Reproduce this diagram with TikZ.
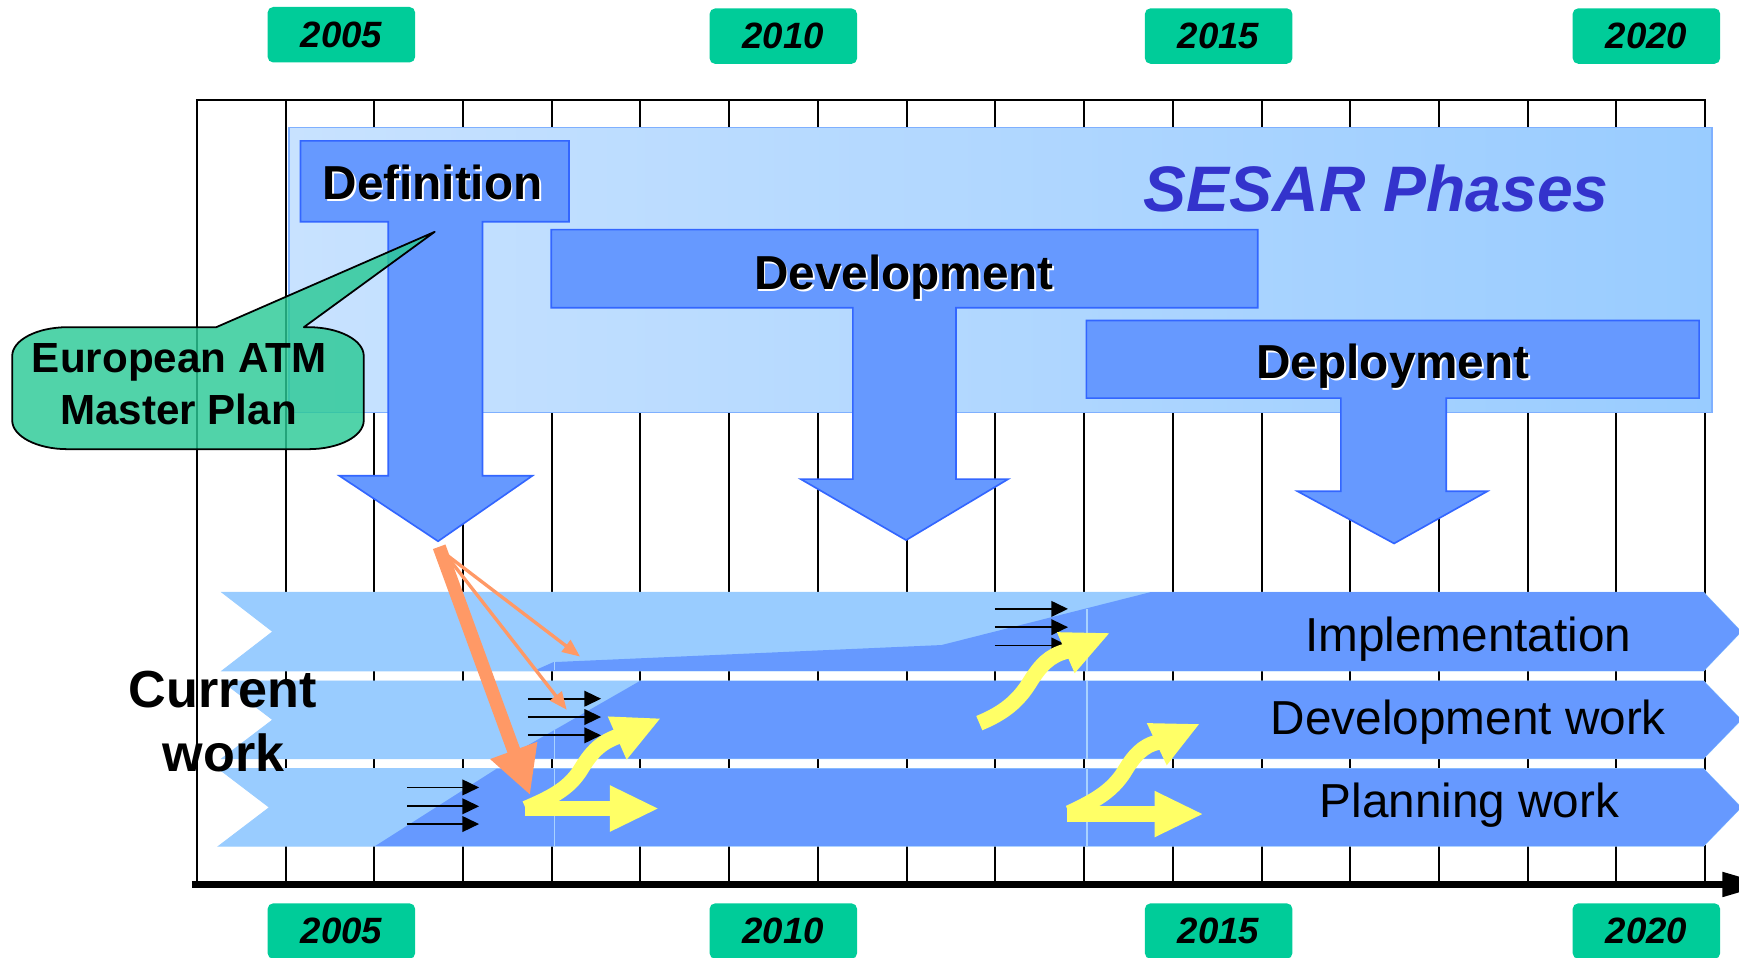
\documentclass[tikz,border=0pt]{standalone}
\usepackage{fontspec}
\setmainfont{Liberation Sans}
\usetikzlibrary{arrows.meta}
\definecolor{yearfill}{HTML}{00CC99}
\definecolor{lightband}{HTML}{99CCFF}
\definecolor{darkband}{HTML}{6699FF}
\definecolor{phasefill}{HTML}{6699FF}
\definecolor{phaseedge}{HTML}{3366FF}
\definecolor{sesarL}{HTML}{C8E2FF}
\definecolor{sesarR}{HTML}{99CCFF}
\definecolor{sesaredge}{HTML}{7FB0FF}
\definecolor{sesartxt}{HTML}{3333CC}
\definecolor{orangearr}{HTML}{FF9966}
\definecolor{yellowarr}{HTML}{FFFF66}
\definecolor{calloutfill}{HTML}{2BC996}
\definecolor{seam}{HTML}{A8D2FF}
\begin{document}
\begin{tikzpicture}[x=1pt,y=-1pt,
  gridline/.style={line width=1.8pt,black},
  yearbox/.style={fill=yearfill,rounded corners=5pt,minimum width=133pt,minimum height=50pt,inner sep=0pt,
    font=\fontsize{33}{36}\selectfont\bfseries\itshape},
  phasebox/.style={fill=phasefill,draw=phaseedge,line width=1.5pt,line join=miter},
  phasetxt/.style={font=\fontsize{43}{48}\selectfont\bfseries,inner sep=0pt,anchor=base},
  phaseshadow/.style={phasetxt,text=white},
  bandtxt/.style={font=\fontsize{43}{48}\selectfont,inner sep=0pt,anchor=base},
  lightbandst/.style={fill=lightband,draw=lightband,line width=0.8pt},
  darkbandst/.style={fill=darkband},
  seamline/.style={draw=seam,line width=1.2pt},
  blackarr/.style={line width=1.7pt,-{Triangle[length=15pt,width=14pt]}},
  orangethick/.style={orangearr,line width=12pt,-{Triangle[length=43pt,width=42pt]}},
  orangethin/.style={orangearr,line width=3pt,-{Triangle[length=16pt,width=13pt]}},
  yshaft/.style={yellowarr,line width=14pt},
  yhead/.style={fill=yellowarr}
]
\useasboundingbox (0,0) rectangle (1568,863);

% grid
\foreach \i in {0,...,17} \draw[gridline] ({177.5+80*\i},90) -- ({177.5+80*\i},797);
\draw[gridline] (176.6,90) -- (1538.4,90);
% time axis
\draw[line width=6.5pt] (173,797.5) -- (1556,797.5);
\fill (1553,786) -- (1592,797.5) -- (1553,809) -- cycle;

% SESAR phases background
\shade[left color=sesarL,right color=sesarR] (260.5,115) rectangle (1543.5,372);
\draw[sesaredge,line width=1.2pt] (260.5,115) rectangle (1543.5,372);

% phase arrows
\filldraw[phasebox] (979.5,289) -- (1532,289) -- (1532,359) -- (1304,359) -- (1304,443) -- (1341,443)
  -- (1257,490) -- (1170,443) -- (1209,443) -- (1209,359) -- (979.5,359) -- cycle;
\filldraw[phasebox] (497,207) -- (1134,207) -- (1134,277.5) -- (862,277.5) -- (862,432) -- (909,432)
  -- (817,487) -- (722,432) -- (769,432) -- (769,277.5) -- (497,277.5) -- cycle;
\filldraw[phasebox] (271,127) -- (513,127) -- (513,200) -- (435,200) -- (435,429) -- (480,429)
  -- (395,488) -- (306,429) -- (350,429) -- (350,200) -- (271,200) -- cycle;

% callout
\filldraw[fill=calloutfill,fill opacity=0.82,draw=black,line width=1.6pt,line join=round]
  (195,295) -- (392,209) -- (274,295) -- (278,295) .. controls (305.6,295) and (328,306.6) .. (328,321)
  -- (328,379) .. controls (328,393.4) and (305.6,405) .. (278,405)
  -- (61,405) .. controls (33.4,405) and (11,393.4) .. (11,379)
  -- (11,321) .. controls (11,306.6) and (33.4,295) .. (61,295) -- cycle;

% current work bands
\filldraw[lightbandst] (200,534) -- (1536,534) -- (1570,569.5) -- (1536,605) -- (200,605) -- (246,569.5) -- cycle;
\fill[darkbandst] (481,605) -- (499,597) -- (849,581.6) -- (1037,534) -- (1536,534) -- (1570,569.5) -- (1536,605) -- cycle;
\filldraw[lightbandst] (200,614) -- (1536,614) -- (1570,649) -- (1536,684) -- (200,684) -- (246,649) -- cycle;
\fill[darkbandst] (577,614) -- (1536,614) -- (1570,649) -- (1536,684) -- (455,684) -- cycle;
\filldraw[lightbandst] (197,693) -- (1536,693) -- (1570,728) -- (1536,763) -- (197,763) -- (243,728) -- cycle;
\fill[darkbandst] (448,693) -- (1536,693) -- (1570,728) -- (1536,763) -- (338,763) -- cycle;
\draw[seamline] (500,597) -- (500,604.5);
\draw[seamline] (500,658) -- (500,684);
\draw[seamline] (500,693) -- (500,763);
\draw[seamline] (980,549) -- (980,605);
\draw[seamline] (980,614) -- (980,684);
\draw[seamline] (980,693) -- (980,763);

% black arrows
\foreach \y [count=\k] in {710,727,743} {
  \coordinate (pa\k) at (367,\y); \coordinate (pb\k) at (432,\y);
  \draw[blackarr] (pa\k) -- (pb\k);
}
\foreach \y [count=\k] in {630,646.5,663} {
  \coordinate (da\k) at (476,\y); \coordinate (db\k) at (542,\y);
  \draw[blackarr] (da\k) -- (db\k);
}
\foreach \y [count=\k] in {549,565.5,582} {
  \coordinate (ia\k) at (897,\y); \coordinate (ib\k) at (963,\y);
  \draw[blackarr] (ia\k) -- (ib\k);
}

% orange arrows
\coordinate (orS) at (396,493);
\coordinate (orT) at (478,717);
\coordinate (otS) at (401,499);
\coordinate (otA) at (523,592);
\coordinate (otB) at (511,640);
\draw[orangethin] (otS) -- (otA);
\draw[orangethin] (otS) -- (otB);
\draw[orangethick] (orS) -- (orT);

% yellow arrows (left)
\coordinate (yl0) at (473,729);
\coordinate (yl1) at (551,729);
\draw[yshaft] (yl0) -- (yl1);
\fill[yhead] (550,708) -- (593,729) -- (550,750) -- cycle;
\draw[yshaft] (474,729) .. controls (500,718) and (513,710) .. (523,695) .. controls (532,680) and (540,670) .. (557,664);
\fill[yhead] (548,646) -- (595,648) -- (565,685) -- cycle;
% yellow arrows (right, lower)
\coordinate (yr0) at (962,734);
\coordinate (yr1) at (1042,734);
\draw[yshaft] (yr0) -- (yr1);
\fill[yhead] (1041,713) -- (1084,734) -- (1041,755) -- cycle;
\draw[yshaft] (964,733) .. controls (990,721) and (1003,712) .. (1013,697) .. controls (1022,682) and (1030,672) .. (1045,669);
\fill[yhead] (1034,652) -- (1081,653) -- (1052,690) -- cycle;
% yellow arrow (upper)
\draw[yshaft] (883,652) .. controls (905,643) and (918,632) .. (928,616) .. controls (938,600) and (946,591) .. (962,587);
\fill[yhead] (953,570) -- (1000,571) -- (969,607) -- cycle;

% texts
\node[phaseshadow] (defS) at (391.5,181.5) {Definition};
\node[phasetxt] (def) at (390,180) {Definition};
\node[phaseshadow] (devS) at (816.5,262.5) {Development};
\node[phasetxt] (dev) at (815,261) {Development};
\node[phaseshadow] (depS) at (1257.5,343) {Deployment};
\node[phasetxt] (dep) at (1256,341.5) {Deployment};
\node[font=\fontsize{58}{64}\selectfont\bfseries\itshape,text=sesartxt,inner sep=0pt,anchor=base] (sesar) at (1241,190.5) {SESAR Phases};
\node[font=\fontsize{38}{42}\selectfont\bfseries,inner sep=0pt,anchor=base] (eu1) at (161.5,336) {European ATM};
\node[font=\fontsize{38}{42}\selectfont\bfseries,inner sep=0pt,anchor=base] (eu2) at (161,383) {Master Plan};
\node[font=\fontsize{47}{52}\selectfont\bfseries,inner sep=0pt,anchor=base] (cur1) at (201,638) {Current};
\node[font=\fontsize{47}{52}\selectfont\bfseries,inner sep=0pt,anchor=base] (cur2) at (201.5,696) {work};
\node[bandtxt] (impl) at (1324,587) {Implementation};
\node[bandtxt] (devw) at (1324,662) {Development work};
\node[bandtxt] (plan) at (1325,737) {Planning work};

% year boxes
\node[yearbox] (t05) at (307.8,31.3) {2005};
\node[yearbox] (t10) at (706.3,32.6) {2010};
\node[yearbox] (t15) at (1098.8,32.5) {2015};
\node[yearbox] (t20) at (1484.5,32.5) {2020};
\node[yearbox] (b05) at (307.8,839.5) {2005};
\node[yearbox] (b10) at (706.3,839.5) {2010};
\node[yearbox] (b15) at (1098.8,839.5) {2015};
\node[yearbox] (b20) at (1484.5,839.5) {2020};
\end{tikzpicture}
\end{document}
